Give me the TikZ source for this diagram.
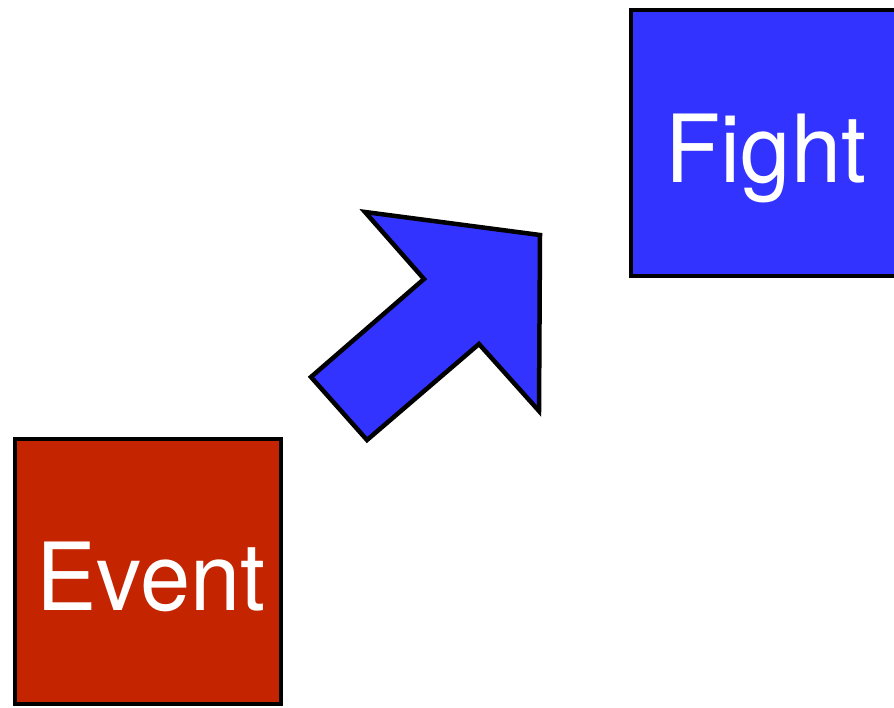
\documentclass[tikz,border=0pt]{standalone}
\usepackage{fontspec}
\setmainfont{TeX Gyre Heros}
\definecolor{evred}{HTML}{C52400}
\definecolor{fgblue}{HTML}{3333FF}
\tikzset{
  box/.style={draw=black, line width=4.5pt, line join=miter},
  label/.style={text=white, anchor=base, inner sep=0pt, font=\fontsize{94}{100}\selectfont},
  bigarrow/.style={draw=black, fill=fgblue, line width=4.5pt, line join=miter}
}
\begin{document}
\begin{tikzpicture}[x=1pt,y=-1pt]
\useasboundingbox (0,0) rectangle (894,707);
\clip (0,0) rectangle (894,707);
\fill[white] (0,0) rectangle (894,707);
\draw[box, fill=evred] (15,439) rectangle (281,704);
\draw[box, fill=fgblue] (631,10) rectangle (905,276);
\node[label] (event) at (151,610) {\scalebox{0.96}[1]{Event}};
\node[label] (fight) at (766,182) {\scalebox{0.96}[1]{Fight}};
\draw[bigarrow] (365,212) -- (540,235) -- (539,411) -- (479,344) -- (367,440) -- (311,377) -- (424,279) -- cycle;
\end{tikzpicture}
\end{document}
